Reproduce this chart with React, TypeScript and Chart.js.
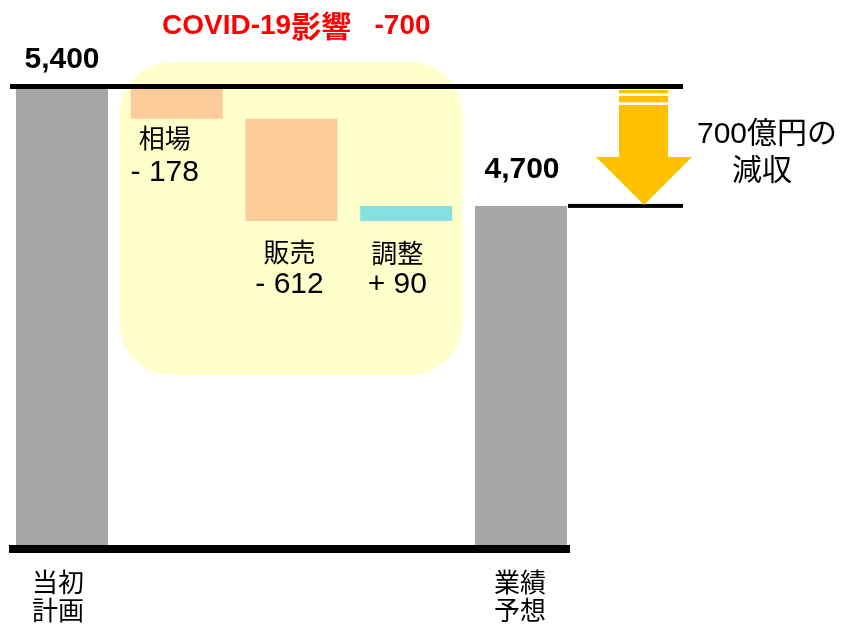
import React, { useEffect, useRef } from 'react';
import { Chart, registerables } from 'chart.js';

Chart.register(...registerables);

// ---- data ----
const categories = ['当初計画', '相場', '販売', '調整', '業績予想'];
const planTotal = 5400;
const forecastTotal = 4700;
const changes = [-178, -612, 90];
const changeLabels = ['- 178', '- 612', '+ 90'];
const totalLabels = ['5,400', '4,700'];
const impactLabel = ['COVID-19', '影響', '   -700'];
const reductionLabel = ['700億円の', '減収'];
const axisMin = 2670;
const axisMax = 5400;

const LATIN = "'Liberation Sans', Arial, 'Noto Sans CJK JP', sans-serif";
const CJK = "'Noto Sans CJK JP', 'Liberation Sans', sans-serif";

function buildBars(): (number | [number, number])[] {
  const bars: (number | [number, number])[] = [planTotal];
  let level = planTotal;
  for (const c of changes) {
    const next = level + c;
    bars.push([Math.min(level, next), Math.max(level, next)]);
    level = next;
  }
  bars.push(forecastTotal);
  return bars;
}

function barColors(): string[] {
  return categories.map((_, i) => {
    if (i === 0 || i === categories.length - 1) return '#A6A6A6';
    return changes[i - 1] < 0 ? '#FCCB9A' : '#86E0E0';
  });
}

const overlay = {
  id: 'overlay',
  beforeDatasetsDraw(chart: any) {
    const ctx = chart.ctx as CanvasRenderingContext2D;
    const x = chart.scales.x;
    ctx.save();
    ctx.fillStyle = '#FFFFCC';
    const left = x.getPixelForValue(1) - 57;
    const right = x.getPixelForValue(3) + 56;
    ctx.beginPath();
    (ctx as any).roundRect(left, 62, right - left, 375 - 62, 52);
    ctx.fill();
    ctx.restore();
  },
  afterDatasetsDraw(chart: any) {
    const ctx = chart.ctx as CanvasRenderingContext2D;
    const x = chart.scales.x;
    const y = chart.scales.y;
    const area = chart.chartArea;
    const yPlan = y.getPixelForValue(planTotal);
    const yFc = y.getPixelForValue(forecastTotal);
    ctx.save();

    // horizontal lines
    ctx.fillStyle = '#000000';
    ctx.fillRect(10, yPlan - 5, 673, 5);
    ctx.fillRect(x.getPixelForValue(4) + 47, yFc - 2, 683 - (x.getPixelForValue(4) + 47), 4);
    ctx.fillRect(9, area.bottom, x.getPixelForValue(4) + 49 - 9, 8);

    // arrow
    const cx = 644;
    const top = yPlan + 1;
    const tip = yFc - 1;
    const headStart = tip - 48;
    ctx.fillStyle = '#FFC000';
    ctx.fillRect(cx - 25, top, 49, 3.3);
    ctx.fillRect(cx - 25, top + 6, 49, 6.3);
    ctx.fillRect(cx - 25, top + 15, 49, headStart - (top + 15) + 1);
    ctx.beginPath();
    ctx.moveTo(cx - 48, headStart);
    ctx.lineTo(cx + 48, headStart);
    ctx.lineTo(cx, tip);
    ctx.closePath();
    ctx.fill();

    // title
    ctx.textBaseline = 'middle';
    ctx.textAlign = 'left';
    ctx.fillStyle = '#FF0000';
    const fonts = [`bold 28px ${LATIN}`, `bold 30px ${CJK}`, `bold 28px ${LATIN}`];
    let tx = 162;
    impactLabel.forEach((s, i) => {
      ctx.font = fonts[i];
      ctx.fillText(s, tx, 26);
      tx += ctx.measureText(s).width;
    });

    // totals
    ctx.fillStyle = '#000000';
    ctx.textAlign = 'center';
    ctx.font = `bold 30px ${LATIN}`;
    ctx.fillText(totalLabels[0], x.getPixelForValue(0), yPlan - 29);
    ctx.fillText(totalLabels[1], x.getPixelForValue(4) + 1, yFc - 36);

    // change labels
    const nameOffsets = [-12, -2, -9];
    const nameY = [138, 252, 253];
    const numY = [173, 285, 285];
    changes.forEach((_, i) => {
      const bx = x.getPixelForValue(i + 1) + nameOffsets[i];
      ctx.font = `26px ${CJK}`;
      ctx.fillText(categories[i + 1], bx, nameY[i]);
      ctx.font = `30px ${LATIN}`;
      ctx.fillText(changeLabels[i], bx, numY[i]);
    });

    // reduction note
    ctx.font = `30px ${LATIN}`;
    ctx.fillText(reductionLabel[0], 767, 135);
    ctx.fillText(reductionLabel[1], 762, 172);

    // category labels for totals
    ctx.font = `26px ${CJK}`;
    [0, categories.length - 1].forEach((idx) => {
      const name = categories[idx];
      const lx = x.getPixelForValue(idx) + (idx === 0 ? -4 : -1);
      ctx.fillText(name.slice(0, 2), lx, 582);
      ctx.fillText(name.slice(2), lx, 610);
    });

    ctx.restore();
  },
};

export default function App() {
  const ref = useRef<HTMLCanvasElement | null>(null);
  useEffect(() => {
    if (!ref.current) return;
    const chart = new Chart(ref.current, {
      type: 'bar',
      data: {
        labels: categories,
        datasets: [
          {
            data: buildBars() as any,
            backgroundColor: barColors(),
            borderWidth: 0,
            categoryPercentage: 1,
            barPercentage: 92 / 114.75,
          },
        ],
      },
      options: {
        animation: false,
        responsive: false,
        layout: { padding: { left: 4.625, right: 267.625, top: 89, bottom: 80 } },
        plugins: { legend: { display: false }, tooltip: { enabled: false } },
        scales: {
          x: { display: false },
          y: { display: false, min: axisMin, max: axisMax },
        },
      },
      plugins: [overlay],
    });
    return () => chart.destroy();
  }, []);
  return (
    <div style={{ position: 'absolute', left: 0, top: 0, width: 846, height: 625, background: '#fff' }}>
      <canvas ref={ref} width={846} height={625} style={{ display: 'block' }} />
    </div>
  );
}
